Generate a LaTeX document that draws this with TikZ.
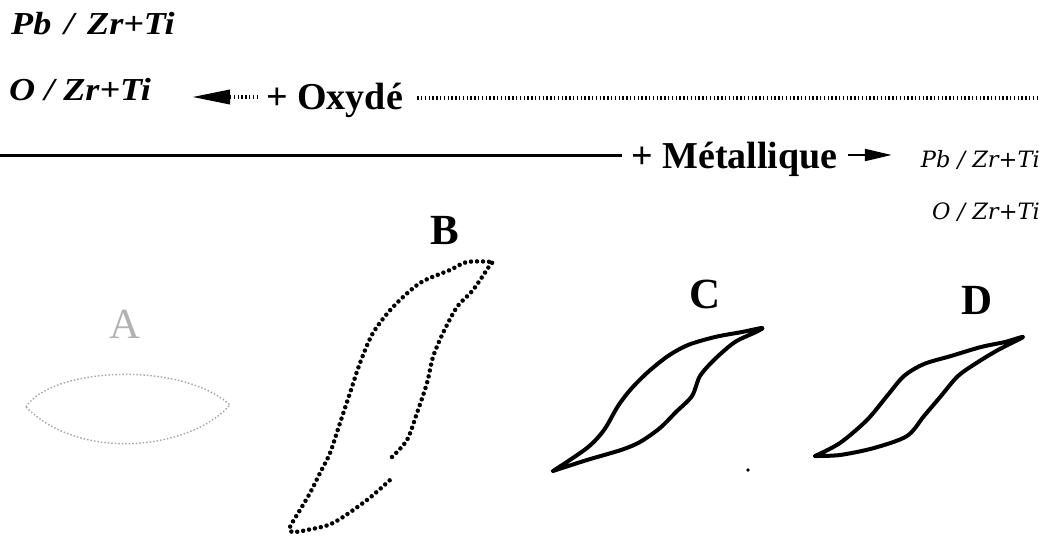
\documentclass[tikz,border=0pt]{standalone}
\usepackage{fontspec}
\setmainfont{Liberation Serif}
\newfontfamily\widelbl[FakeStretch=1.13]{Liberation Serif}
\newfontfamily\smallser{DejaVu Serif}
\usetikzlibrary{arrows.meta}
\begin{document}
\begin{tikzpicture}[x=1pt,y=-1pt,
  lbl/.style={inner sep=0pt, anchor=base west, font=\fontsize{32}{36}\selectfont\widelbl\bfseries\itshape},
  big/.style={inner sep=0pt, anchor=base west, font=\fontsize{38}{42}\selectfont\bfseries},
  sml/.style={inner sep=0pt, anchor=base east, font=\fontsize{22.5}{26}\selectfont\smallser\itshape},
  letter/.style={inner sep=0pt, font=\fontsize{43}{46}\selectfont\bfseries},
  loopline/.style={line width=4pt, line join=round, line cap=round},
  dotloop/.style={line width=4.5pt, line cap=round, dash pattern=on 0pt off 6pt},
  dotline/.style={line width=3.6pt, dash pattern=on 1.5pt off 2.3pt},
  solidline/.style={line width=3pt}]
\useasboundingbox (0,0) rectangle (1046,537);

% labels
\node[lbl] (pb1) at (11,35) {Pb\hspace{0.12em} / \hspace{0.12em}Zr+Ti};
\node[lbl] (o1) at (9,101) {O / Zr+Ti};
\node[big] (ox) at (266,110) {+ Oxydé};
\node[big] (me) at (631,169) {+ Métallique};
\node[sml] (pb2) at (1040,168) {Pb / Zr+Ti};
\node[sml] (o2) at (1040,220) {O / Zr+Ti};

% oxide arrow and dotted line
\coordinate (oxtip) at (192,97);
\coordinate (oxend) at (1040,98);
\draw[dotline, -{Triangle[length=38pt,width=14pt]}] ([xshift=-8pt]ox.west |- oxtip) -- (oxtip);
\draw[dotline] ([xshift=14pt]ox.east |- oxend) -- (oxend);

% metallic line and arrow
\coordinate (s0) at (0,156);
\draw[solidline] (s0) -- ([xshift=-9pt]me.west |- s0);
\draw[line width=2.2pt, -{Triangle[length=27pt,width=12pt]}] ([xshift=10pt]me.east |- 0,155) -- ([xshift=54pt]me.east |- 0,155);

% letters
\node[letter, text=black!30, font=\fontsize{43}{46}\selectfont\mdseries] (la) at (125,324) {A};
\node[letter] (lb) at (445,230) {B};
\node[letter] (lc) at (705,294) {C};
\node[letter] (ld) at (977,300) {D};

% loop A
\draw[black!35, line width=1.4pt, dash pattern=on 1.5pt off 2pt]
  (26,407) .. controls (50,368) and (180,360) .. (230,405)
  .. controls (190,450) and (80,462) .. (26,407);

% loop B
\draw[dotloop] plot[smooth, tension=0.5] coordinates {
  (392,457) (407,440) (417,413) (427,383) (433,357) (443,333) (457,307)
  (473,290) (490,265) (492,262) (467,262) (450,270) (420,283) (393,307)
  (373,333) (360,363) (350,393) (340,423) (330,453) (320,473) (310,493)
  (300,510) (290,527) (292,532) (307,530) (333,523) (367,500) (390,480)};

% loop C
\draw[loopline] plot[smooth, tension=0.5] coordinates {
  (553,471) (587,448) (604,430) (618,406) (631,389) (648,372) (668,356)
  (688,345) (715,337) (742,332) (762,328) (756,332) (735,342) (715,359)
  (700,376) (692,396) (676,412) (660,428) (640,442) (621,450) (587,460)
  (553,471)};
\fill (748,470) circle (1.8pt);

% loop D
\draw[loopline] plot[smooth, tension=0.5] coordinates {
  (815,456) (840,443) (867,420) (887,396) (904,376) (924,364) (951,356)
  (981,347) (1005,342) (1023,337) (998,350) (978,362) (958,376) (941,396)
  (924,416) (907,436) (874,448) (840,455) (815,456)};
\end{tikzpicture}
\end{document}
